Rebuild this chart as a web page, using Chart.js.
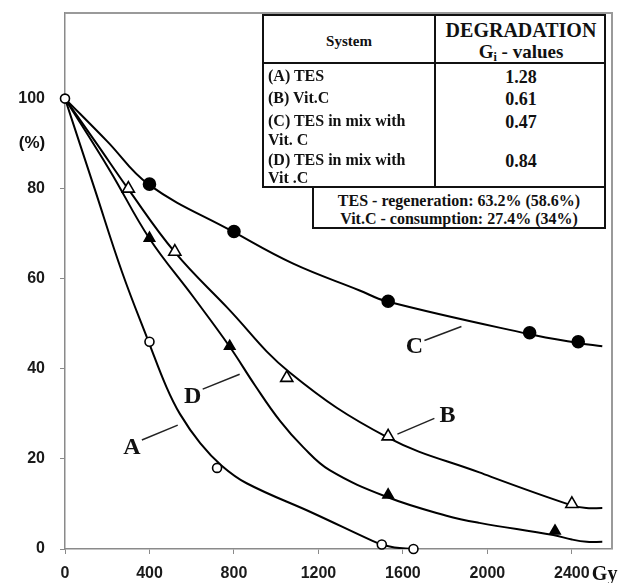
<!DOCTYPE html>
<html>
<head>
<meta charset="utf-8">
<script src="https://cdn.jsdelivr.net/npm/chart.js@4.4.1/dist/chart.umd.min.js"></script>
<style>
  html, body { margin: 0; padding: 0; background: #fff; }
  #wrap { position: relative; width: 624px; height: 583px; }
  #chart { position: absolute; left: 0; top: 0; }
  .box { position: absolute; border: 2px solid #111; box-sizing: border-box; background: #fff; }
  .rule { position: absolute; background: #111; }
  .t { position: absolute; font-family: 'Liberation Serif', 'Times New Roman', serif; font-weight: bold;
       color: #111; white-space: nowrap; line-height: 1; }
  .c { transform: translate(-50%, -50%); }
  .l { transform: translate(0, -50%); }
  sub { font-size: 12px; vertical-align: -3px; }
</style>
</head>
<body>
<div id="wrap">
  <canvas id="chart" width="624" height="583"></canvas>

  <!-- G-values table -->
  <div class="box" style="left:262px; top:14px; width:344px; height:174px;"></div>
  <div class="rule" style="left:262px; top:62px; width:344px; height:2px;"></div>
  <div class="rule" style="left:434px; top:14px; width:2px; height:174px;"></div>
  <div class="box" style="left:312px; top:186px; width:294px; height:43px;"></div>

  <div class="t c" style="left:349px; top:41px; font-size:15px;">System</div>
  <div class="t c" style="left:521px; top:30px; font-size:20px;">DEGRADATION</div>
  <div class="t c" style="left:521px; top:52px; font-size:19px;">G<sub>i</sub> - values</div>

  <div class="t l" style="left:268px; top:76px; font-size:16px;">(A) TES</div>
  <div class="t l" style="left:268px; top:98px; font-size:16px;">(B) Vit.C</div>
  <div class="t l" style="left:268px; top:121px; font-size:16px;">(C) TES in mix with</div>
  <div class="t l" style="left:268px; top:140px; font-size:16px;">Vit. C</div>
  <div class="t l" style="left:268px; top:160px; font-size:16px;">(D) TES in mix with</div>
  <div class="t l" style="left:268px; top:178px; font-size:16px;">Vit .C</div>

  <div class="t c" style="left:521px; top:77px; font-size:18px;">1.28</div>
  <div class="t c" style="left:521px; top:99px; font-size:18px;">0.61</div>
  <div class="t c" style="left:521px; top:122px; font-size:18px;">0.47</div>
  <div class="t c" style="left:521px; top:161px; font-size:18px;">0.84</div>

  <div class="t c" style="left:459px; top:201px; font-size:16px;">TES - regeneration: 63.2% (58.6%)</div>
  <div class="t c" style="left:459px; top:219px; font-size:16px;">Vit.C - consumption: 27.4% (34%)</div>
</div>

<script>
// axis ticks
const xTicks = [0, 400, 800, 1200, 1600, 2000, 2400];
const yTicks = [0, 20, 40, 60, 80, 100];

// measured points
const tesX = [0, 400, 720, 1500, 1650];
const tesY = [100, 46, 18, 1, 0];
const vitcX = [300, 520, 1050, 1530, 2400];
const vitcY = [80, 66, 38, 25, 10];
const mixCX = [400, 800, 1530, 2200, 2430];
const mixCY = [81, 70.5, 55, 48, 46];
const mixDX = [400, 780, 1530, 2320];
const mixDY = [69, 45, 12, 4];

// fitted curves
const curveAX = [0, 140, 270, 400, 480, 544, 640, 742, 860, 1173, 1456, 1500, 1560, 1645];
const curveAY = [100, 80, 61.5, 45.5, 36, 30, 23.5, 18.5, 14.6, 8, 1.8, 1.0, 0.35, 0];
const curveBX = [0, 150, 298, 520, 766, 1064, 1527, 1962, 2392, 2468, 2544];
const curveBY = [100, 90, 80, 65.9, 53.7, 39.2, 24.8, 17, 9.8, 9.1, 9.1];
const curveCX = [0, 200, 397, 794, 1078, 1395, 1522, 2189, 2421, 2544];
const curveCY = [100, 90.5, 80.9, 70.5, 63.4, 57.4, 55, 47.8, 45.8, 45];
const curveDX = [0, 213, 399, 607, 780, 900, 1017, 1130, 1253, 1522, 1806, 1962, 2312, 2400, 2470, 2544];
const curveDY = [100, 84, 69, 56, 44.9, 36.3, 28.5, 22.5, 17.5, 11.6, 7.4, 5.8, 3.1, 2.1, 1.6, 1.6];

// curve names with their leader lines (data units)
const curveLabels = [
  { text: 'A', at: [317, 22.4], from: [364, 24.2], to: [534, 27.5] },
  { text: 'B', at: [1811, 29.5], from: [1574, 25.5], to: [1749, 29] },
  { text: 'C', at: [1655, 44.8], from: [1702, 46.3], to: [1877, 49.4] },
  { text: 'D', at: [605, 33.7], from: [652, 35.5], to: [827, 38.8] }
];

const pts = (xs, ys) => xs.map((v, i) => ({ x: v, y: ys[i] }));

const markerSet = (xs, ys, style, filled, r) => ({
  data: pts(xs, ys),
  showLine: false,
  pointStyle: style,
  pointRadius: r,
  pointBorderWidth: 1.6,
  pointBorderColor: '#000',
  pointBackgroundColor: filled ? '#000' : '#fff',
  clip: false,
  order: 0
});

const curveSet = (xs, ys) => ({
  data: pts(xs, ys),
  showLine: true,
  borderColor: '#000',
  borderWidth: 2,
  pointRadius: 0,
  tension: 0.4,
  order: 1
});

// frame, curve letters, axis units
const annotate = {
  id: 'annotate',
  beforeDatasetsDraw(chart) {
    const { ctx, chartArea: a } = chart;
    ctx.save();
    ctx.strokeStyle = '#9a9a9a';
    ctx.lineWidth = 2;
    ctx.beginPath();
    ctx.moveTo(a.left, a.top);
    ctx.lineTo(a.right, a.top);
    ctx.lineTo(a.right, a.bottom);
    ctx.stroke();
    ctx.restore();
  },
  afterDatasetsDraw(chart) {
    const { ctx, scales: { x, y } } = chart;
    ctx.save();
    ctx.strokeStyle = '#222';
    ctx.lineWidth = 1.5;
    ctx.fillStyle = '#111';
    ctx.font = 'bold 24px "Liberation Serif", "Times New Roman", serif';
    ctx.textAlign = 'center';
    ctx.textBaseline = 'middle';
    curveLabels.forEach(l => {
      ctx.beginPath();
      ctx.moveTo(x.getPixelForValue(l.from[0]), y.getPixelForValue(l.from[1]));
      ctx.lineTo(x.getPixelForValue(l.to[0]), y.getPixelForValue(l.to[1]));
      ctx.stroke();
      ctx.fillText(l.text, x.getPixelForValue(l.at[0]), y.getPixelForValue(l.at[1]));
    });

    ctx.font = 'bold 17px "Liberation Sans", Arial, sans-serif';
    ctx.fillText('(%)', 32, y.getPixelForValue(90));

    ctx.font = 'bold 20px "Liberation Serif", "Times New Roman", serif';
    ctx.textAlign = 'left';
    ctx.fillText('Gy', x.getPixelForValue(2400) + 20, 575);
    ctx.restore();
  }
};

const tickFont = { family: '"Liberation Sans", Arial, sans-serif', size: 16, weight: 'bold' };

new Chart(document.getElementById('chart'), {
  type: 'scatter',
  data: {
    datasets: [
      markerSet(tesX, tesY, 'circle', false, 4.5),
      markerSet(vitcX, vitcY, 'triangle', false, 7),
      markerSet(mixCX, mixCY, 'circle', true, 6),
      markerSet(mixDX, mixDY, 'triangle', true, 6),
      curveSet(curveAX, curveAY),
      curveSet(curveBX, curveBY),
      curveSet(curveCX, curveCY),
      curveSet(curveDX, curveDY)
    ]
  },
  options: {
    responsive: false,
    animation: false,
    layout: { padding: { top: 13, right: 12, left: 0, bottom: 0 } },
    plugins: { legend: { display: false }, tooltip: { enabled: false } },
    scales: {
      x: {
        type: 'linear',
        min: 0,
        max: 2590,
        afterBuildTicks: s => { s.ticks = xTicks.map(v => ({ value: v })); },
        afterFit: s => { s.height = 34; s.paddingLeft = 0; s.paddingRight = 0; },
        border: { display: true, color: '#8a8a8a', width: 1.5 },
        grid: { drawOnChartArea: false, color: '#8a8a8a', tickLength: 5 },
        ticks: { color: '#1a1a1a', font: tickFont, padding: 10, maxRotation: 0, callback: v => String(v) }
      },
      y: {
        type: 'linear',
        min: 0,
        max: 119,
        afterBuildTicks: s => { s.ticks = yTicks.map(v => ({ value: v })); },
        afterFit: s => { s.width = 65; s.paddingTop = 0; s.paddingBottom = 0; },
        border: { display: true, color: '#8a8a8a', width: 1.5 },
        grid: { drawOnChartArea: false, color: '#8a8a8a', tickLength: 5 },
        ticks: { color: '#1a1a1a', font: tickFont, padding: 15, callback: v => String(v) }
      }
    }
  },
  plugins: [annotate]
});
</script>
</body>
</html>
